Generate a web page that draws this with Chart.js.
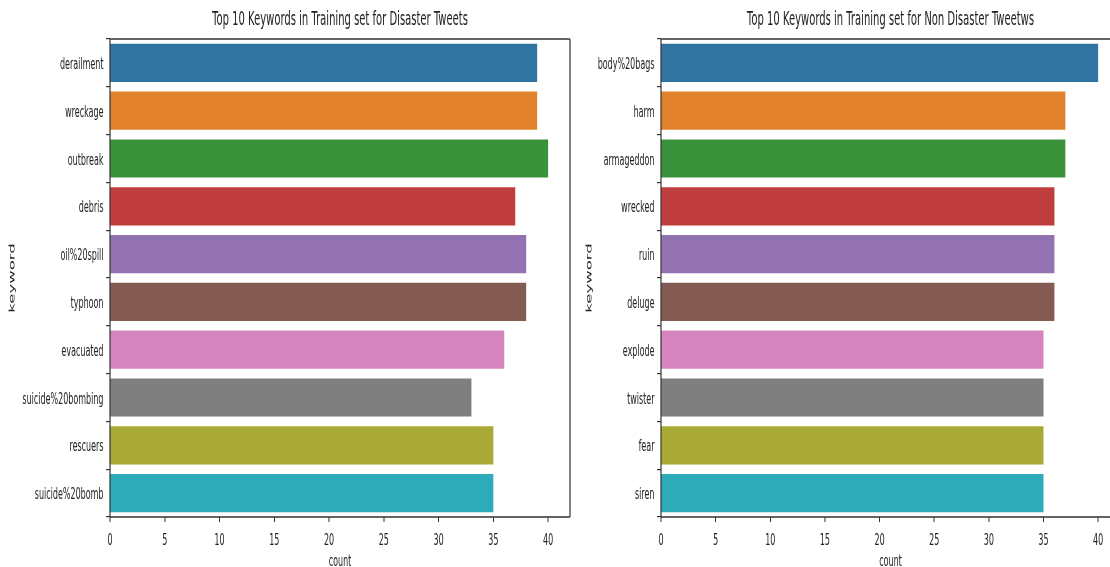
<!DOCTYPE html>
<html lang="en">
<head>
<meta charset="UTF-8">
<title>Top 10 Keywords</title>
<script src="https://cdn.jsdelivr.net/npm/chart.js"></script>
<style>
  html, body { margin: 0; padding: 0; overflow: hidden; background: #fff; width: 1110px; height: 567px; }
  /* the original picture is squeezed sideways, so each chart is drawn twice as wide and then halved */
  canvas { position: absolute; top: 0; transform: scaleX(0.5); transform-origin: 0 0; }
  #leftChart { left: 0; }
  #rightChart { left: 582px; }
</style>
</head>
<body>
<canvas id="leftChart" width="1160" height="567"></canvas>
<canvas id="rightChart" width="1076" height="567"></canvas>
<script>
const disasterKeywords = ['derailment', 'wreckage', 'outbreak', 'debris', 'oil%20spill', 'typhoon',
  'evacuated', 'suicide%20bombing', 'rescuers', 'suicide%20bomb'];
const disasterCounts = [39, 39, 40, 37, 38, 38, 36, 33, 35, 35];

const nonDisasterKeywords = ['body%20bags', 'harm', 'armageddon', 'wrecked', 'ruin', 'deluge',
  'explode', 'twister', 'fear', 'siren'];
const nonDisasterCounts = [40, 37, 37, 36, 36, 36, 35, 35, 35, 35];

const xTicks = [0, 5, 10, 15, 20, 25, 30, 35, 40];

const barColors = ['#3274a1', '#e1812c', '#3a923a', '#c03d3e', '#9372b2',
  '#845b53', '#d684bd', '#7f7f7f', '#a9aa35', '#2eabb8'];

const FONT = '"DejaVu Sans", sans-serif';
const TEXT = '#222';
const LINE = '#333';

// matplotlib style box around the plot + title centred over the axes
const frameAndTitle = {
  id: 'frameAndTitle',
  afterDraw(chart, args, opts) {
    const { ctx, chartArea: a } = chart;
    ctx.save();
    ctx.strokeStyle = LINE;
    ctx.lineWidth = 1.3;
    ctx.beginPath();
    ctx.moveTo(a.left, a.top); ctx.lineTo(a.right, a.top);
    ctx.moveTo(a.left, a.bottom); ctx.lineTo(a.right, a.bottom);
    ctx.stroke();
    ctx.lineWidth = 2.4;
    ctx.beginPath();
    ctx.moveTo(a.left, a.top); ctx.lineTo(a.left, a.bottom);
    ctx.moveTo(a.right, a.top); ctx.lineTo(a.right, a.bottom);
    ctx.stroke();

    ctx.fillStyle = TEXT;
    ctx.font = '20px ' + FONT;
    ctx.textAlign = 'center';
    ctx.textBaseline = 'middle';
    ctx.fillText(opts.text, (a.left + a.right) / 2, 20);
    ctx.restore();
  }
};

function makeChart(id, labels, values, title, padLeft, padRight, yWidth) {
  return new Chart(document.getElementById(id), {
    type: 'bar',
    data: {
      labels: labels,
      datasets: [{
        data: values,
        backgroundColor: barColors,
        borderWidth: 0,
        categoryPercentage: 1,
        barPercentage: 0.8
      }]
    },
    plugins: [frameAndTitle],
    options: {
      indexAxis: 'y',
      responsive: false,
      animation: false,
      layout: { padding: { top: 39, left: padLeft, right: padRight, bottom: 0 } },
      plugins: {
        legend: { display: false },
        tooltip: { enabled: false },
        frameAndTitle: { text: title }
      },
      scales: {
        y: {
          afterFit(scale) { scale.width = yWidth; },
          border: { display: false },
          grid: { drawOnChartArea: false, drawTicks: true, tickLength: 8, color: LINE, lineWidth: 1.2 },
          ticks: { color: TEXT, font: { family: FONT, size: 16 }, padding: 5, labelOffset: 2 },
          title: { display: true, text: 'keyword', color: TEXT, font: { family: FONT, size: 16.5 }, padding: 0 }
        },
        x: {
          type: 'linear',
          min: 0,
          max: 42,
          afterBuildTicks(scale) { scale.ticks = xTicks.map(v => ({ value: v })); },
          afterFit(scale) { scale.height = 50; },
          border: { display: false },
          grid: { drawOnChartArea: false, drawTicks: true, tickLength: 5, color: LINE, lineWidth: 2 },
          ticks: { color: TEXT, font: { family: FONT, size: 16 }, padding: 9 },
          title: { display: true, text: 'count', color: TEXT, font: { family: FONT, size: 16 }, padding: { top: 0, bottom: -4 } }
        }
      }
    }
  });
}

makeChart('leftChart', disasterKeywords, disasterCounts,
  'Top 10 Keywords in Training set for Disaster Tweets', 15, 20, 205);
makeChart('rightChart', nonDisasterKeywords, nonDisasterCounts,
  'Top 10 Keywords in Training set for Non Disaster Tweetws', 5, 0, 153);
</script>
</body>
</html>
